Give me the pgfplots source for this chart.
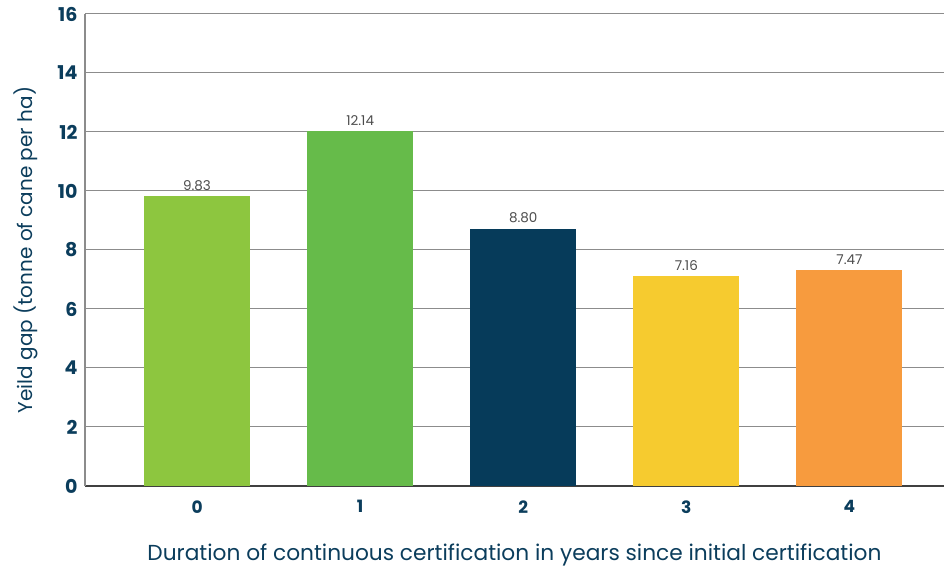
\documentclass[border=0pt]{standalone}
\usepackage{pgfplots}
\pgfplotsset{compat=1.18}
\usepackage{fontspec}
\setmainfont{Poppins}
\definecolor{navy}{HTML}{0B3D5C}
\definecolor{cA}{HTML}{8DC63F}
\definecolor{cB}{HTML}{66BB4A}
\definecolor{cC}{HTML}{063B5A}
\definecolor{cD}{HTML}{F6CB2F}
\definecolor{cE}{HTML}{F79B3E}
\definecolor{gridg}{HTML}{8C8C8C}
\begin{document}
\begin{tikzpicture}
\useasboundingbox (-85pt,-83pt) rectangle (859pt,486pt);
\begin{axis}[
  at={(0,0)}, anchor=south west,
  scale only axis, width=859pt, height=472pt,
  xmin=-0.687, xmax=4.58, ymin=0, ymax=16,
  xtick={0,1,2,3,4}, ytick={0,2,...,16},
  major tick length=0pt,
  ymajorgrids, grid style={gridg, line width=1pt},
  axis x line*=bottom, axis y line*=left,
  x axis line style={draw=black!75, line width=1.2pt, -},
  y axis line style={draw=gridg, line width=1.2pt, -},
  ticklabel style={font=\fontsize{19}{22}\selectfont\bfseries, text=navy},
  /pgf/number format/assume math mode=true,
  yticklabel style={xshift=-4pt},
  xticklabel style={yshift=-11pt, font=\fontsize{17}{20}\selectfont\bfseries},
  xlabel={Duration of continuous certification in years since initial certification},
  ylabel={Yeild gap (tonne of cane per ha)},
  label style={text=navy},
  xlabel style={font=\fontsize{21.7}{26}\selectfont, yshift=-24pt},
  ylabel style={font=\fontsize{20}{24}\selectfont, yshift=13pt},
  ybar, bar width=0.65, bar shift=0pt,
  point meta=explicit symbolic,
  nodes near coords,
  nodes near coords style={font=\fontsize{13.5}{15}\selectfont, text=black!70, anchor=south, yshift=2pt},
]
\addplot[draw=none, fill=cA] coordinates {(0,9.83) [9.83]};
\addplot[draw=none, fill=cB] coordinates {(1,12.02) [12.14]};
\addplot[draw=none, fill=cC] coordinates {(2,8.72) [8.80]};
\addplot[draw=none, fill=cD] coordinates {(3,7.12) [7.16]};
\addplot[draw=none, fill=cE] coordinates {(4,7.32) [7.47]};
\end{axis}
\end{tikzpicture}
\end{document}
